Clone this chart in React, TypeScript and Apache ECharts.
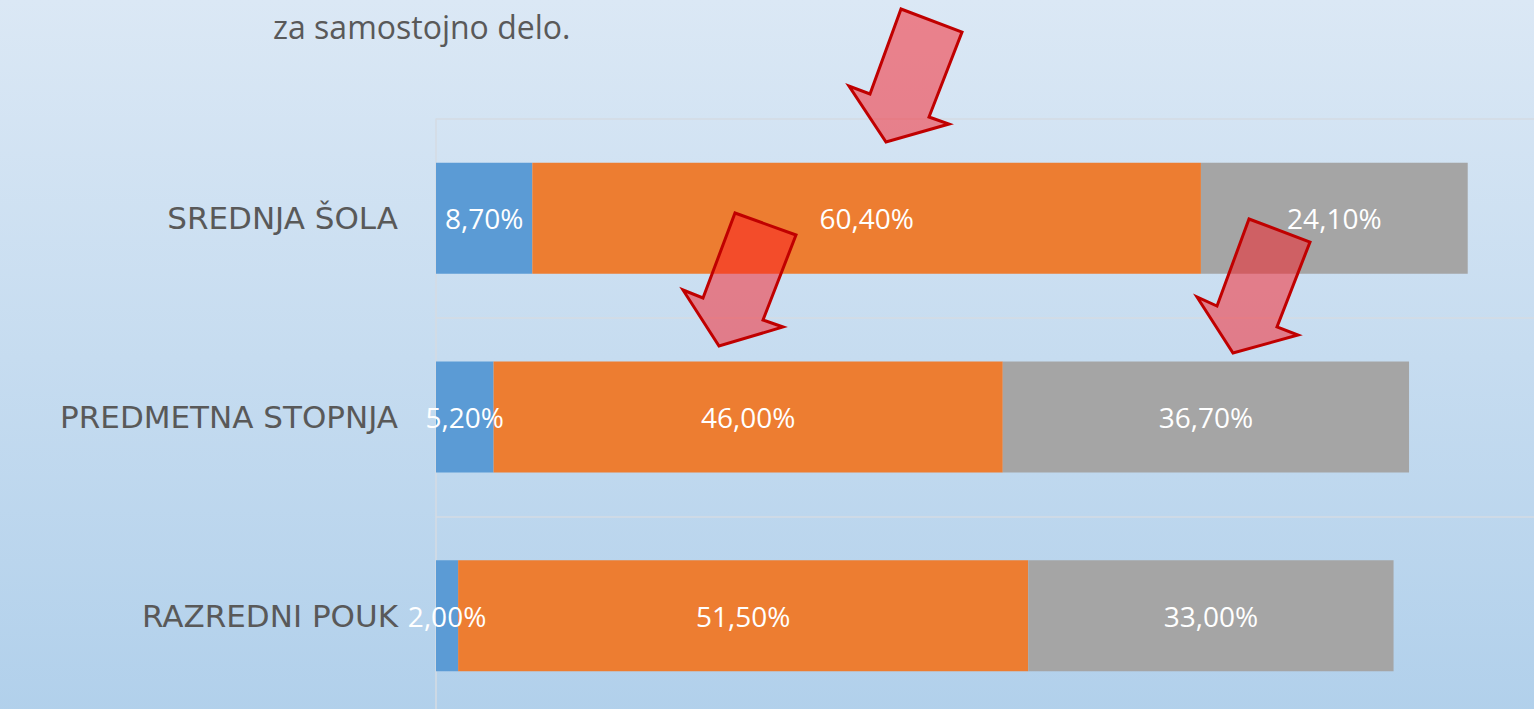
import React, { useEffect, useRef } from "react";
import * as echarts from "echarts";

const categories = ["RAZREDNI POUK", "PREDMETNA STOPNJA", "SREDNJA ŠOLA"];
const seriesA = [2.0, 5.2, 8.7];
const seriesB = [51.5, 46.0, 60.4];
const seriesC = [33.0, 36.7, 24.1];
const seriesNames = ["A", "B", "C"];
const seriesColors = ["#5b9bd5", "#ed7d31", "#a5a5a5"];
const titleText = "za samostojno delo.";

const arrows: number[][][] = [
  [[901, 9], [962, 32], [929, 117], [949, 124], [886, 142], [849, 86], [870, 94]],
  [[735, 213], [796, 235], [763, 320], [783, 327], [719, 346], [683, 290], [703, 298]],
  [[1249, 219], [1310, 242], [1277, 327], [1298, 335], [1233, 353], [1197, 297], [1217, 306]],
];

const fmt = (v: number) => v.toFixed(2).replace(".", ",") + "%";

export default function App() {
  const ref = useRef<HTMLDivElement>(null);
  useEffect(() => {
    if (!ref.current) return;
    const chart = echarts.init(ref.current, undefined, { renderer: "svg" });
    const data = [seriesA, seriesB, seriesC];
    chart.setOption({
      animation: false,
      backgroundColor: "transparent",
      title: {
        text: titleText,
        left: 268,
        top: 5,
        textStyle: {
          fontFamily: "Open Sans",
          fontSize: 32,
          fontWeight: "normal",
          color: "#595959",
        },
      },
      grid: { left: 436, top: 119, width: 1107, height: 596, containLabel: false, outerBoundsMode: "none" },
      xAxis: {
        type: "value",
        min: 0,
        max: 100,
        show: false,
        splitLine: { show: false },
      },
      yAxis: {
        type: "category",
        data: categories,
        axisLine: { show: true, lineStyle: { color: "#d4dbe3", width: 1.5 } },
        axisTick: { show: false },
        splitLine: { show: true, lineStyle: { color: "#d4dbe3", width: 1.5 } },
        axisLabel: {
          margin: 38,
          fontFamily: "DejaVu Sans",
          fontSize: 31,
          color: "#595959",
        },
      },
      series: data.map((d, i) => ({
        name: seriesNames[i],
        type: "bar",
        stack: "total",
        barWidth: 111,
        data: d,
        itemStyle: {
          color: seriesColors[i],
        },
        label: {
          show: true,
          position: "inside",
          color: "#ffffff",
          fontFamily: "Open Sans",
          fontSize: 28,
          formatter: (p: any) => fmt(p.value),
        },
      })),
      graphic: arrows.map((pts) => ({
        type: "polygon",
        z: 100,
        shape: { points: pts },
        style: {
          fill: "rgba(249,28,36,0.5)",
          stroke: "#c00000",
          lineWidth: 3,
          lineJoin: "miter",
        },
      })),
    });
    return () => chart.dispose();
  }, []);
  return (
    <div
      ref={ref}
      style={{
        position: "fixed",
        left: 0,
        top: 0,
        width: 1545,
        height: 716,
        background: "linear-gradient(to bottom, #dbe8f5 0%, #c6dcf0 50%, #b1d0eb 100%)",
      }}
    />
  );
}
